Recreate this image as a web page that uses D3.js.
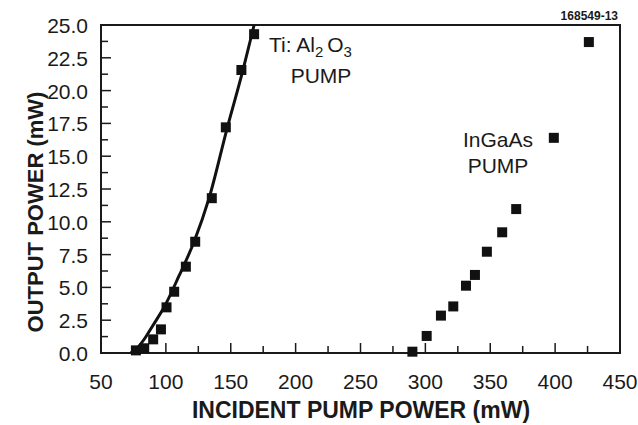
<!DOCTYPE html>
<html>
<head>
<meta charset="utf-8">
<script src="https://cdn.jsdelivr.net/npm/d3@7"></script>
<style>
  body { margin: 0; background: #fff; }
  text { font-family: "Liberation Sans", Arial, sans-serif; fill: #1a1a1a; }
</style>
</head>
<body>
<div id="f1"></div>
<script>
const W = 638, H = 425;
const M = {left: 101, right: 18, top: 25, bottom: 72};

// measured points (mW in, mW out)
const tiPump = [[76.9, 0.2], [83.3, 0.36], [90.2, 1.04], [96.2, 1.8], [100.5, 3.48], [106.4, 4.67],
                [115.4, 6.58], [122.6, 8.48], [135.4, 11.8], [146.2, 17.2], [158.2, 21.57], [168, 24.3]];
// fitted curve
const tiFit = [[73, 0], [79, 0.5], [84.6, 1.24], [90, 2.1], [98.7, 3.5], [110, 5.85], [121.8, 8.5],
               [133.3, 11.8], [147.4, 17.2], [159.5, 21.6], [168, 25], [171, 26.2]];
const ingaasPump = [[290, 0.1], [301, 1.3], [312, 2.85], [321.5, 3.55], [331.3, 5.13], [338.2, 5.95],
                    [347.4, 7.72], [359.2, 9.2], [370, 10.97], [399, 16.4], [426, 23.7]];
const xTicks = [50, 100, 150, 200, 250, 300, 350, 400, 450];
const yTicks = [0, 2.5, 5, 7.5, 10, 12.5, 15, 17.5, 20, 22.5, 25];

const svg = d3.select("#f1").append("svg").attr("width", W).attr("height", H);

const x = d3.scaleLinear().domain([50, 450]).range([M.left, W - M.right]);
const y = d3.scaleLinear().domain([0, 25]).range([H - M.bottom, M.top]);

svg.append("defs").append("clipPath").attr("id", "clip")
   .append("rect").attr("x", M.left).attr("y", M.top)
   .attr("width", W - M.right - M.left).attr("height", H - M.bottom - M.top);

// frame
svg.append("rect")
   .attr("x", M.left).attr("y", M.top)
   .attr("width", W - M.right - M.left).attr("height", H - M.bottom - M.top)
   .style("fill", "none").style("stroke", "#1a1a1a").style("stroke-width", 2);

// ticks inside
const xMinor = d3.range(75, 450, 50);
const yMinor = d3.range(1.25, 25, 2.5);
const tg = svg.append("g").style("stroke", "#1a1a1a").style("stroke-width", 1.5);
xTicks.forEach(v => tg.append("line").attr("x1", x(v)).attr("x2", x(v))
    .attr("y1", y(0)).attr("y2", y(0) - 10));
xMinor.forEach(v => tg.append("line").attr("x1", x(v)).attr("x2", x(v))
    .attr("y1", y(0)).attr("y2", y(0) - 7));
yTicks.forEach(v => tg.append("line").attr("y1", y(v)).attr("y2", y(v))
    .attr("x1", x(50)).attr("x2", x(50) + 10));
yMinor.forEach(v => tg.append("line").attr("y1", y(v)).attr("y2", y(v))
    .attr("x1", x(50)).attr("x2", x(50) + 7));

// tick labels
svg.append("g").selectAll("text").data(xTicks).enter().append("text")
   .attr("x", d => x(d)).attr("y", 389)
   .attr("text-anchor", "middle").style("font-size", "21px")
   .text(d => d);
svg.append("g").selectAll("text").data(yTicks).enter().append("text")
   .attr("x", 88).attr("y", d => y(d) + 8)
   .attr("text-anchor", "end").style("font-size", "21px")
   .text(d => d.toFixed(1));

// axis titles
svg.append("text").attr("x", 361).attr("y", 418)
   .attr("text-anchor", "middle").style("font-size", "23px").style("font-weight", "bold")
   .text("INCIDENT PUMP POWER (mW)");
svg.append("text").attr("transform", "translate(43,212) rotate(-90)")
   .attr("text-anchor", "middle").style("font-size", "22px").style("font-weight", "bold")
   .text("OUTPUT POWER (mW)");

// fit curve
const plotG = svg.append("g").attr("clip-path", "url(#clip)");
plotG.append("path").datum(tiFit)
   .attr("d", d3.line().x(d => x(d[0])).y(d => y(d[1])).curve(d3.curveMonotoneX))
   .style("fill", "none").style("stroke", "#111").style("stroke-width", 3);

// squares
const S = 10;
svg.append("g").selectAll("rect").data(tiPump.concat(ingaasPump)).enter().append("rect")
   .attr("x", d => x(d[0]) - S / 2).attr("y", d => y(d[1]) - S / 2)
   .attr("width", S).attr("height", S).style("fill", "#111");

// annotations
const ti = svg.append("text").attr("x", 269).attr("y", 52).style("font-size", "21px");
ti.append("tspan").text("Ti: Al");
ti.append("tspan").attr("dy", 5).style("font-size", "15px").text("2");
ti.append("tspan").attr("dy", -5).attr("dx", 4).text("O");
ti.append("tspan").attr("dy", 5).style("font-size", "15px").text("3");
svg.append("text").attr("x", 321).attr("y", 83).attr("text-anchor", "middle")
   .style("font-size", "21px").text("PUMP");
svg.append("text").attr("x", 498).attr("y", 147).attr("text-anchor", "middle")
   .style("font-size", "21px").text("InGaAs");
svg.append("text").attr("x", 498).attr("y", 173).attr("text-anchor", "middle")
   .style("font-size", "21px").text("PUMP");
svg.append("text").attr("x", 618).attr("y", 20).attr("text-anchor", "end")
   .style("font-size", "12px").style("font-weight", "bold").text("168549-13");
</script>
</body>
</html>
